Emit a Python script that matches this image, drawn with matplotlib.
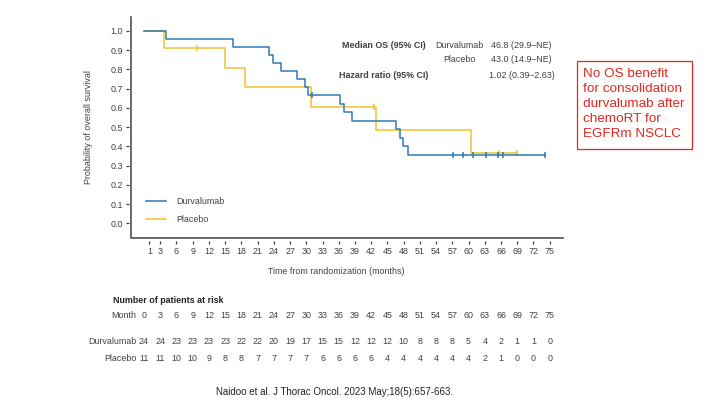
import numpy as np
import matplotlib
matplotlib.use("Agg")
import matplotlib.pyplot as plt
from matplotlib import transforms
from matplotlib.patches import Rectangle

plt.rcParams['font.family'] = ['Liberation Sans', 'DejaVu Sans']

# Kaplan-Meier steps (months, survival probability)
durva_times = [0, 4.0, 16.5, 23.1, 23.8, 25.3, 28.3, 29.8, 30.4, 36.2, 37.0, 38.4, 46.6, 47.4, 47.9, 48.8, 74.2]
durva_surv = [1.0, 0.958, 0.917, 0.875, 0.833, 0.792, 0.75, 0.708, 0.667, 0.622, 0.578, 0.533, 0.489, 0.444, 0.40, 0.356, 0.356]
durva_censor = [31.0, 57.2, 58.9, 60.9, 63.2, 65.5, 66.4, 74.2]

plac_times = [0, 3.7, 14.9, 18.6, 30.8, 42.9, 60.5, 68.9]
plac_surv = [1.0, 0.909, 0.808, 0.707, 0.606, 0.485, 0.364, 0.364]
plac_censor = [9.8, 42.5, 65.6, 68.9]

x_ticks = [1, 3, 6, 9, 12, 15, 18, 21, 24, 27, 30, 33, 36, 39, 42, 45, 48, 51, 54, 57, 60, 63, 66, 69, 72, 75]
y_ticks = [0.0, 0.1, 0.2, 0.3, 0.4, 0.5, 0.6, 0.7, 0.8, 0.9, 1.0]

risk_months = [0, 3, 6, 9, 12, 15, 18, 21, 24, 27, 30, 33, 36, 39, 42, 45, 48, 51, 54, 57, 60, 63, 66, 69, 72, 75]
risk_durva = [24, 24, 23, 23, 23, 23, 22, 22, 20, 19, 17, 15, 15, 12, 12, 12, 10, 8, 8, 8, 5, 4, 2, 1, 1, 0]
risk_plac = [11, 11, 10, 10, 9, 8, 8, 7, 7, 7, 7, 6, 6, 6, 6, 4, 4, 4, 4, 4, 4, 2, 1, 0, 0, 0]

callout_lines = ['No OS benefit', 'for consolidation', 'durvalumab after', 'chemoRT for', 'EGFRm NSCLC']

BLUE = '#2f78b7'
YELLOW = '#f1c232'
TXT = '#404040'
RED = '#e3261f'
FS = 6.4


def surv_at(times, surv, t):
    i = np.searchsorted(times, t, side='right') - 1
    return np.asarray(surv)[i]


fig = plt.figure(figsize=(7.2, 4.05), dpi=100)
W, H = 720.0, 405.0
ax = fig.add_axes([131 / W, 1 - 237.7 / H, (562.7 - 131) / W, (237.7 - 16.7) / H])

ax.step(durva_times, durva_surv, where='post', color=BLUE, lw=1.1, label='Durvalumab', zorder=3)
ax.step(plac_times, plac_surv, where='post', color=YELLOW, lw=1.1, label='Placebo', zorder=2)
ax.plot(durva_censor, surv_at(durva_times, durva_surv, durva_censor), ls='none',
        marker='|', ms=4.2, mew=1.1, color=BLUE, zorder=3)
ax.plot(plac_censor, surv_at(plac_times, plac_surv, plac_censor), ls='none',
        marker='|', ms=4.2, mew=1.1, color=YELLOW, zorder=2)

ax.set_xlim(-2.4, 77.4)
ax.set_ylim(-0.075, 1.073)
ax.set_xticks(x_ticks)
ax.set_yticks(y_ticks)
ax.set_yticklabels([f"{v:.1f}" for v in y_ticks])

# detached ticks: spines pushed out and hidden, axis lines drawn separately
for s in ['top', 'right']:
    ax.spines[s].set_visible(False)
ax.spines['left'].set_position(('outward', 1.5))
ax.spines['bottom'].set_position(('outward', 2.2))
ax.spines['left'].set_color('none')
ax.spines['bottom'].set_color('none')
ax.plot([0, 0, 1], [1, 0, 0], transform=ax.transAxes, color=TXT, lw=1.1,
        clip_on=False, solid_joinstyle='miter', zorder=5)
ax.tick_params(axis='both', length=2.2, width=0.9, color=TXT, labelcolor=TXT,
               labelsize=FS, pad=2)

ax.set_ylabel('Probability of overall survival', fontsize=FS, color=TXT)
ax.yaxis.set_label_coords(-0.088, 0.5)
fig.text(336.5 / W, 1 - 271 / H, 'Time from randomization (months)', fontsize=FS,
         color=TXT, ha='center', va='center')

ax.legend(loc='center left', bbox_to_anchor=(146 / W, 1 - 210.4 / H),
          bbox_transform=fig.transFigure, frameon=False, fontsize=FS,
          handlelength=2.25, handletextpad=1.2, labelspacing=0.95,
          borderpad=0, borderaxespad=0, labelcolor=TXT)

# median / HR box
fig.text(383.8 / W, 1 - 45.7 / H, 'Median OS (95% CI)', fontsize=FS, fontweight='bold',
         color=TXT, ha='center', va='center')
fig.text(459 / W, 1 - 45.7 / H, 'Durvalumab', fontsize=FS, color=TXT, ha='center', va='center')
fig.text(521.7 / W, 1 - 45.7 / H, '46.8 (29.9–NE)', fontsize=FS, color=TXT, ha='center', va='center')
fig.text(459.5 / W, 1 - 59.7 / H, 'Placebo', fontsize=FS, color=TXT, ha='center', va='center')
fig.text(521.7 / W, 1 - 59.7 / H, '43.0 (14.9–NE)', fontsize=FS, color=TXT, ha='center', va='center')
fig.text(383.8 / W, 1 - 75.7 / H, 'Hazard ratio (95% CI)', fontsize=FS, fontweight='bold',
         color=TXT, ha='center', va='center')
fig.text(522 / W, 1 - 75.7 / H, '1.02 (0.39–2.63)', fontsize=FS, color=TXT, ha='center', va='center')

# number at risk table
blend = transforms.blended_transform_factory(ax.transData, fig.transFigure)
fig.text(112.7 / W, 1 - 300.7 / H, 'Number of patients at risk', fontsize=FS,
         fontweight='bold', color='#222222', ha='left', va='center')
rows = [('Month', risk_months, 315.0), ('Durvalumab', risk_durva, 341.0), ('Placebo', risk_plac, 358.3)]
for name, vals, ypx in rows:
    fig.text(136.5 / W, 1 - ypx / H, name, fontsize=FS, color=TXT, ha='right', va='center')
    for m, v in zip(risk_months, vals):
        ax.text(m, 1 - ypx / H, str(v), transform=blend, fontsize=FS, color=TXT,
                ha='center', va='center', clip_on=False)

# red callout, one baseline every 15 px
fig.add_artist(Rectangle((577 / W, 1 - 148.7 / H), (691.7 - 577) / W, (148.7 - 60.7) / H,
                         transform=fig.transFigure, fill=False, edgecolor=RED, lw=0.9))
for k, line in enumerate(callout_lines):
    fig.text(582.7 / W, 1 - (76.7 + 15 * k) / H, line, fontsize=9.7, color=RED,
             ha='left', va='baseline')

fig.text(334.3 / W, 1 - 392 / H, 'Naidoo et al. J Thorac Oncol. 2023 May;18(5):657-663.',
         fontsize=7.0, color='#222222', ha='center', va='center')

fig.savefig('out.png', dpi=100)
